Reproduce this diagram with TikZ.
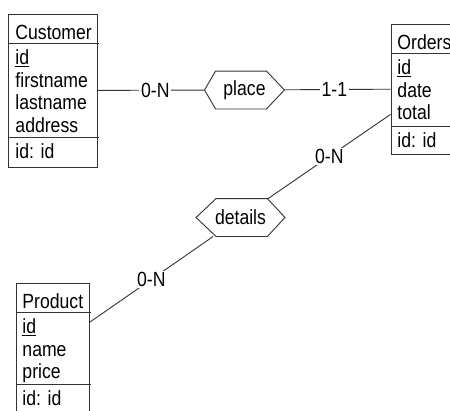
\documentclass[tikz,border=0pt]{standalone}
\usepackage{fontspec}
\newfontfamily\erfont[FakeStretch=0.86]{Liberation Sans}
\begin{document}
\begin{tikzpicture}[x=1pt,y=-1pt,line width=0.9pt,
  every node/.style={font=\erfont\fontsize{20.5}{22}\selectfont},
  ink/.style={draw=black!80},
  entity/.style={ink,rectangle,inner sep=0pt},
  field/.style={anchor=base west,inner sep=0pt},
  divider/.style={ink},
  relbox/.style={rectangle,inner sep=0pt,minimum height=37},
  relshape/.style={ink,line join=miter},
  conn/.style={ink},
  card/.style={fill=white,inner xsep=2pt,inner ysep=1pt}]
\useasboundingbox (0,0) rectangle (450,410);
\clip (0,0) rectangle (450,410);

% ---- entity: Customer ----
\node[entity,minimum width=89,minimum height=153] (customer) at (52.5,90.5) {};
\draw[divider] (8,43.5) -- (99,43.5);
\draw[divider] (8,137) -- (99,137);
\node[field] (cust-name) at (15,39) {Customer};
\node[field] (cust-a1) at (15,64.5) {\underline{id}};
\node[field] (cust-a2) at (15,87) {firstname};
\node[field] (cust-a3) at (15,109.5) {lastname};
\node[field] (cust-a4) at (15,132) {address};
\node[field] (cust-id) at (15,158) {id: id};

% ---- entity: Orders ----
\node[entity,minimum width=73,minimum height=130] (orders) at (427.5,89) {};
\draw[divider] (391,53.5) -- (466,53.5);
\draw[divider] (391,126) -- (466,126);
\node[field] (ord-name) at (397,49) {Orders};
\node[field] (ord-a1) at (397,74.5) {\underline{id}};
\node[field] (ord-a2) at (397,97) {date};
\node[field] (ord-a3) at (397,119.5) {total};
\node[field] (ord-id) at (397,147) {id: id};

% ---- entity: Product ----
\node[entity,minimum width=73,minimum height=130] (product) at (52.5,348) {};
\draw[divider] (16,312.5) -- (91,312.5);
\draw[divider] (16,384) -- (91,384);
\node[field] (prod-name) at (22,308) {Product};
\node[field] (prod-a1) at (22,333.5) {\underline{id}};
\node[field] (prod-a2) at (22,356) {name};
\node[field] (prod-a3) at (22,378.5) {price};
\node[field] (prod-id) at (22,405) {id: id};

% ---- relationships ----
\node[relbox,minimum width=79] (place) at (244.5,90) {place};
\draw[relshape] (place.west) -- ([xshift=11]place.north west)
  -- ([xshift=-18]place.north east) -- (place.east)
  -- ([xshift=-18]place.south east) -- ([xshift=11]place.south west) -- cycle;

\node[relbox,minimum width=88] (details) at (240.5,217.5) {details};
\draw[relshape] (details.west) -- ([xshift=20]details.north west)
  -- ([xshift=-17.5]details.north east) -- (details.east)
  -- ([xshift=-17.5]details.south east) -- ([xshift=20]details.south west) -- cycle;

% ---- roles ----
\draw[conn] (customer) -- node[card,pos=0.54] (card-cust) {0-N} (place);
\draw[conn] (place) -- node[card,pos=0.47] (card-ord) {1-1} (orders);
\draw[conn] (orders) -- node[card,midway] (card-ord2) {0-N} (details);
\draw[conn] (product) -- node[card,midway] (card-prod) {0-N} (details);
\end{tikzpicture}
\end{document}
